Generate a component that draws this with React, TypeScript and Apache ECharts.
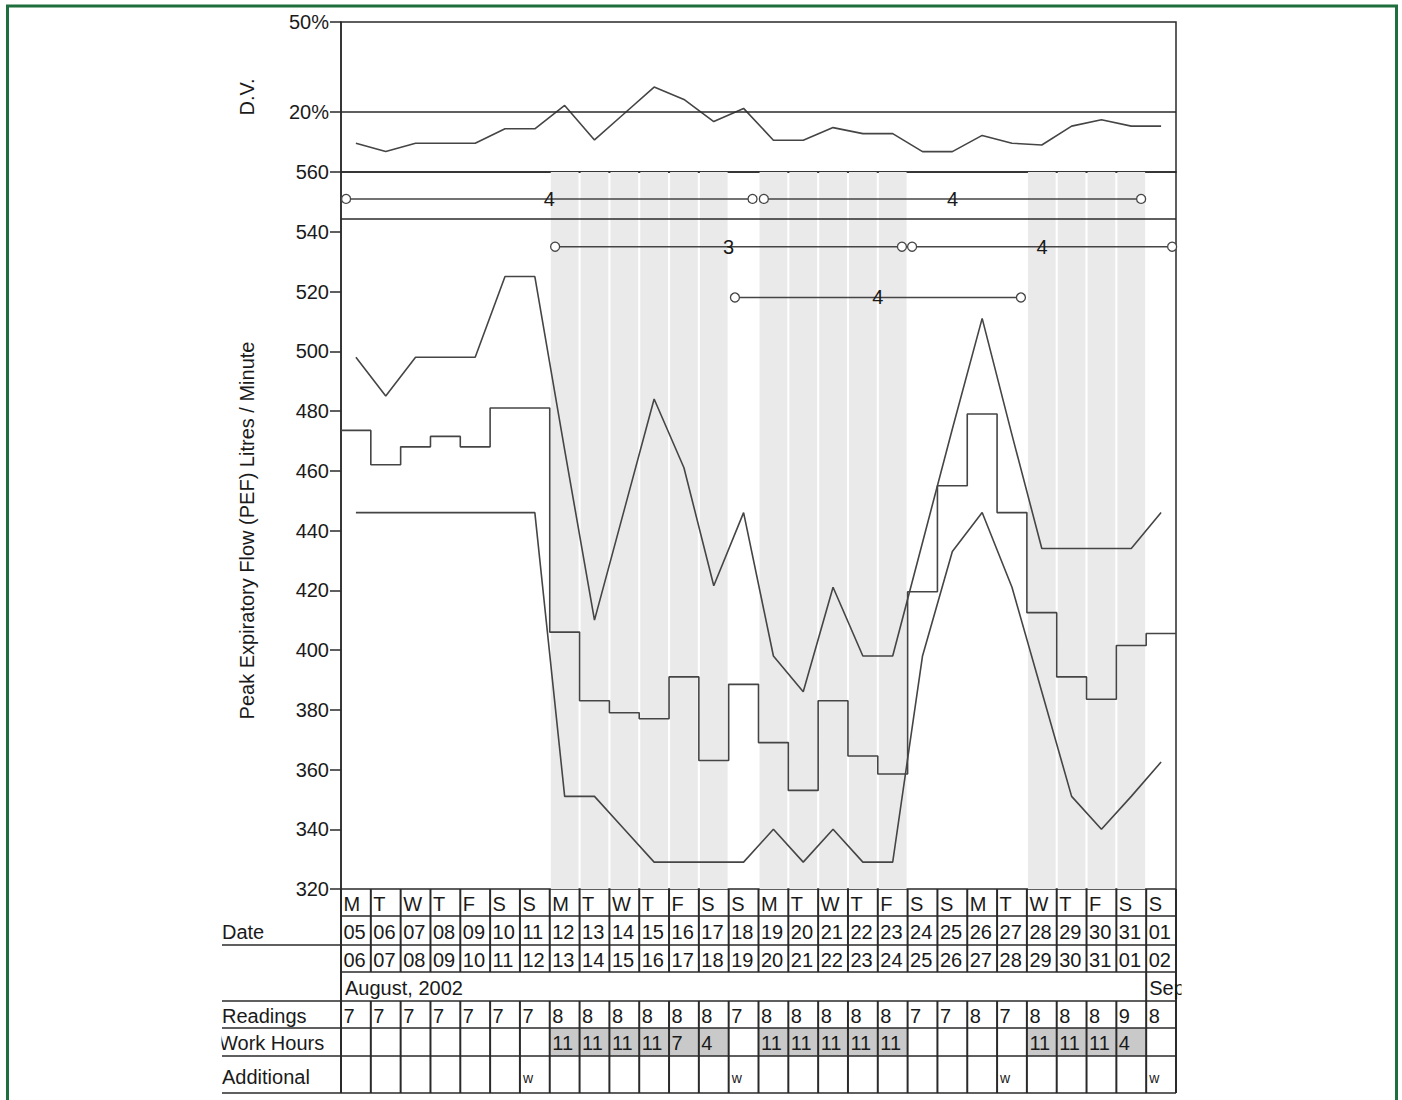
import React, { useEffect, useRef } from 'react';
import * as echarts from 'echarts';

// ---------- data ----------
const dayLetters = ['M','T','W','T','F','S','S','M','T','W','T','F','S','S','M','T','W','T','F','S','S','M','T','W','T','F','S','S'];
const dateFrom = ['05','06','07','08','09','10','11','12','13','14','15','16','17','18','19','20','21','22','23','24','25','26','27','28','29','30','31','01'];
const dateTo = ['06','07','08','09','10','11','12','13','14','15','16','17','18','19','20','21','22','23','24','25','26','27','28','29','30','31','01','02'];
const readings = ['7','7','7','7','7','7','7','8','8','8','8','8','8','7','8','8','8','8','8','7','7','8','7','8','8','8','9','8'];
const workHours = ['','','','','','','','11','11','11','11','7','4','','11','11','11','11','11','','','','','11','11','11','4',''];
const additional = ['','','','','','','w','','','','','','','w','','','','','','','','','w','','','','','w'];

const dvPercent = [9.6, 6.8, 9.6, 9.6, 9.6, 14.4, 14.4, 22.2, 10.7, 19.5, 28.3, 24.2, 16.8, 21.2, 10.6, 10.6, 14.8, 12.8, 12.8, 6.8, 6.8, 12.2, 9.6, 9.0, 15.3, 17.4, 15.3, 15.3];
const maxPEF = [498, 485, 498, 498, 498, 525, 525, 467, 410, 447, 484, 461, 421.5, 446, 398, 386, 421, 398, 398, 436, 474, 511, 472, 434, 434, 434, 434, 446];
const meanPEF = [473.5, 462, 468, 471.5, 468, 481, 481, 406, 383, 379, 377, 391, 363, 388.5, 369, 353, 383, 364.5, 358.5, 419.5, 455, 479, 446, 412.5, 391, 383.5, 401.5, 405.5];
const minPEF = [446, 446, 446, 446, 446, 446, 446, 351, 351, 340, 329, 329, 329, 329, 340, 329, 340, 329, 329, 398, 433, 446, 421, 386, 351, 340, 351, 362.5];

// interval bars: [start column, end column, level, label]
const intervalStart = [0.17, 14.18, 7.18, 19.15, 13.21];
const intervalEnd = [13.8, 26.83, 18.81, 27.87, 22.8];
const intervalLevel = [551, 551, 535, 535, 518];
const intervalLabel = ['4', '4', '3', '4', '4'];

const dvTicks = [20, 50];
const pefMin = 320;
const pefMax = 560;
const separatorLevel = 544.3;
const monthLabel = 'August, 2002';
const nextMonthLabel = 'Sep';
const rowLabels = ['Date', 'Readings', 'Work Hours', 'Additional'];

// ---------- layout ----------
const FONT = '"Liberation Sans", Arial, Helvetica, sans-serif';
const INK = '#2a2a2a';
const LINE = '#454545';
const GL = 341;
const GW = 835;
const GR = GL + GW;
const NCOL = dayLetters.length;
const colX = (i: number) => GL + (i * GW) / NCOL;

export default function App() {
  const ref = useRef<HTMLDivElement>(null);

  useEffect(() => {
    const chart = echarts.init(ref.current!, null, { renderer: 'svg' });

    const centers = (arr: number[]) => arr.map((v, i) => [i + 0.5, v]);
    const stepData = [...meanPEF.map((v, i) => [i, v]), [NCOL, meanPEF[NCOL - 1]]];

    const shadeAreas: any[] = [];
    workHours.forEach((w, i) => {
      if (w !== '') {
        shadeAreas.push([
          { xAxis: i + 0.035, yAxis: pefMin },
          { xAxis: i + 0.965, yAxis: pefMax },
        ]);
      }
    });

    const intervalSeries = intervalStart.map((s, k) => {
      const e = intervalEnd[k];
      const y = intervalLevel[k];
      return {
        type: 'line',
        xAxisIndex: 1,
        yAxisIndex: 1,
        z: 4,
        silent: true,
        symbol: 'circle',
        symbolSize: 9,
        itemStyle: { color: '#fff', borderColor: LINE, borderWidth: 1.3 },
        lineStyle: { color: LINE, width: 1.5 },
        data: [
          { value: [s, y] },
          {
            value: [(s + e) / 2, y],
            symbolSize: 1,
            itemStyle: { color: 'rgba(0,0,0,0)', borderWidth: 0 },
            label: {
              show: true,
              position: 'inside',
              formatter: intervalLabel[k],
              fontSize: 20,
              fontFamily: FONT,
              color: '#1a1a1a',
            },
          },
          { value: [e, y] },
        ],
      };
    });

    // ---------- table graphics ----------
    const els: any[] = [];
    const hl = (x1: number, x2: number, y: number, w = 1.5) =>
      els.push({ type: 'line', silent: true, shape: { x1, y1: y, x2, y2: y }, style: { stroke: INK, lineWidth: w } });
    const vl = (x: number, y1: number, y2: number, w = 2) =>
      els.push({ type: 'line', silent: true, shape: { x1: x, y1, x2: x, y2 }, style: { stroke: INK, lineWidth: w } });
    const txt = (x: number, y: number, text: string, size = 20, va = 'middle') =>
      els.push({
        type: 'text',
        silent: true,
        x,
        y,
        style: {
          text,
          fontSize: size,
          fontFamily: FONT,
          fill: '#1a1a1a',
          align: 'left',
          verticalAlign: va,
          textAlign: 'left',
          textVerticalAlign: va,
        },
      });

    // row bounds
    const R = [889, 916, 945, 972, 1001, 1028, 1056, 1093];

    // work-hours shading
    workHours.forEach((w, i) => {
      if (w !== '') {
        els.push({
          type: 'rect',
          silent: true,
          shape: { x: colX(i), y: R[5], width: GW / NCOL, height: R[6] - R[5] },
          style: { fill: '#c9c9c9' },
        });
      }
    });

    // horizontal lines
    hl(GL, GR, R[1]);
    hl(222, GR, R[2]);
    hl(GL, GR, R[3]);
    hl(222, GR, R[4]);
    hl(222, GR, R[5]);
    hl(222, GR, R[6]);
    hl(222, GR, R[7]);

    // vertical lines
    for (let i = 0; i <= NCOL; i++) {
      vl(colX(i), R[0], R[3]);
      vl(colX(i), R[4], R[7]);
    }
    vl(colX(0), R[3], R[4]);
    vl(colX(NCOL - 1), R[3], R[4]);
    vl(colX(NCOL), R[3], R[4]);

    // cell texts
    for (let i = 0; i < NCOL; i++) {
      const x = colX(i) + 2.5;
      txt(x, (R[0] + R[1]) / 2 + 1, dayLetters[i]);
      txt(x, (R[1] + R[2]) / 2 + 1, dateFrom[i]);
      txt(x, (R[2] + R[3]) / 2 + 1, dateTo[i]);
      txt(x, (R[4] + R[5]) / 2 + 1, readings[i]);
      if (workHours[i]) txt(x, (R[5] + R[6]) / 2 + 1, workHours[i]);
      if (additional[i]) txt(colX(i) + 3, R[7] - 8, additional[i], 14, 'bottom');
    }
    txt(colX(0) + 4, (R[3] + R[4]) / 2 + 1, monthLabel);
    txt(colX(NCOL - 1) + 3, (R[3] + R[4]) / 2 + 1, nextMonthLabel);

    // left row labels
    txt(222, (R[1] + R[2]) / 2 + 1, rowLabels[0]);
    txt(222, (R[4] + R[5]) / 2 + 1, rowLabels[1]);
    txt(219, (R[5] + R[6]) / 2 + 1, rowLabels[2]);
    txt(222, (R[6] + R[7]) / 2 + 2, rowLabels[3]);

    // clipping covers
    els.push({ type: 'rect', silent: true, shape: { x: 1181.5, y: R[3] + 1, width: 30, height: R[4] - R[3] - 2 }, style: { fill: '#fff' } });
    els.push({ type: 'rect', silent: true, shape: { x: 200, y: R[5] + 1, width: 21.5, height: R[6] - R[5] - 2 }, style: { fill: '#fff' } });

    // green frame
    els.push({
      type: 'rect',
      silent: true,
      shape: { x: 7.5, y: 6, width: 1389, height: 1110 },
      style: { fill: 'none', stroke: '#1f6e3d', lineWidth: 3 },
    });

    const axisText = { fontSize: 20, fontFamily: FONT, color: '#1a1a1a' };

    const option: any = {
      animation: false,
      backgroundColor: '#fff',
      grid: [
        { left: GL, top: 22, width: GW, height: 150, show: true, borderColor: INK, borderWidth: 1.5 },
        { left: GL, top: 172, width: GW, height: 717, show: true, borderColor: INK, borderWidth: 1.5 },
      ],
      xAxis: [
        { gridIndex: 0, type: 'value', min: 0, max: NCOL, show: false },
        { gridIndex: 1, type: 'value', min: 0, max: NCOL, show: false },
      ],
      yAxis: [
        {
          gridIndex: 0,
          type: 'value',
          min: 0,
          max: 50,
          interval: 10,
          name: 'D.V.',
          nameLocation: 'middle',
          nameRotate: 90,
          nameGap: 84,
          nameTextStyle: axisText,
          axisLine: { show: true, lineStyle: { color: INK, width: 1.5 } },
          axisTick: { show: true, customValues: dvTicks, length: 11, lineStyle: { color: INK, width: 1.5 } },
          axisLabel: { customValues: dvTicks, formatter: '{value}%', margin: 12, ...axisText },
          splitLine: { show: false },
        },
        {
          gridIndex: 1,
          type: 'value',
          min: pefMin,
          max: pefMax,
          interval: 20,
          name: 'Peak Expiratory Flow (PEF) Litres / Minute',
          nameLocation: 'middle',
          nameRotate: 90,
          nameGap: 84,
          nameTextStyle: axisText,
          axisLine: { show: true, lineStyle: { color: INK, width: 1.5 } },
          axisTick: { show: true, length: 11, lineStyle: { color: INK, width: 1.5 } },
          axisLabel: { margin: 12, ...axisText },
          splitLine: { show: false },
        },
      ],
      graphic: { elements: els },
      series: [
        {
          type: 'line',
          name: 'D.V.',
          xAxisIndex: 0,
          yAxisIndex: 0,
          symbol: 'none',
          silent: true,
          lineStyle: { color: LINE, width: 1.6 },
          data: centers(dvPercent),
          markLine: {
            silent: true,
            symbol: ['none', 'none'],
            label: { show: false },
            lineStyle: { color: INK, width: 1.5, type: 'solid' },
            data: [{ yAxis: 20 }],
          },
        },
        {
          type: 'line',
          name: 'Max',
          xAxisIndex: 1,
          yAxisIndex: 1,
          symbol: 'none',
          silent: true,
          lineStyle: { color: LINE, width: 1.6 },
          data: centers(maxPEF),
          markArea: {
            silent: true,
            itemStyle: { color: '#eaeaea' },
            data: shadeAreas,
          },
          markLine: {
            silent: true,
            symbol: ['none', 'none'],
            label: { show: false },
            lineStyle: { color: INK, width: 1.5, type: 'solid' },
            data: [{ yAxis: separatorLevel }],
          },
        },
        {
          type: 'line',
          name: 'Mean',
          xAxisIndex: 1,
          yAxisIndex: 1,
          symbol: 'none',
          silent: true,
          step: 'end',
          lineStyle: { color: LINE, width: 1.6 },
          data: stepData,
        },
        {
          type: 'line',
          name: 'Min',
          xAxisIndex: 1,
          yAxisIndex: 1,
          symbol: 'none',
          silent: true,
          lineStyle: { color: LINE, width: 1.6 },
          data: centers(minPEF),
        },
        ...intervalSeries,
      ],
    };

    chart.setOption(option);
    return () => chart.dispose();
  }, []);

  return (
    <div
      ref={ref}
      style={{ position: 'absolute', left: 0, top: 0, width: 1402, height: 1100, background: '#fff' }}
    />
  );
}
